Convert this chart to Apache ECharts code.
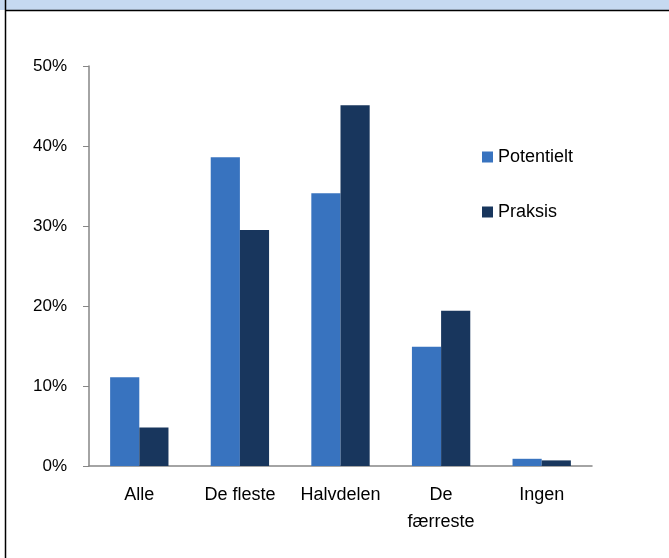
<!DOCTYPE html>
<html>
<head>
<meta charset="utf-8">
<script src="https://cdn.jsdelivr.net/npm/echarts@6/dist/echarts.min.js"></script>
<style>
  html, body { margin: 0; padding: 0; background: #fff; }
  #chart { width: 669px; height: 558px; }
</style>
</head>
<body>
<div id="chart"></div>
<script>
// data
var categories = ['Alle', 'De fleste', 'Halvdelen', 'De\nfærreste', 'Ingen'];
var potentielt = [11.1, 38.6, 34.1, 14.9, 0.9];
var praksis = [4.8, 29.5, 45.1, 19.4, 0.7];
var yTicks = [0, 10, 20, 30, 40, 50];

var font = 'Liberation Sans';
var chart = echarts.init(document.getElementById('chart'));

var option = {
    backgroundColor: '#fff',
    animation: false,
    textStyle: { fontFamily: font },
    graphic: [
        { type: 'rect', shape: { x: 0, y: 0, width: 669, height: 10 }, style: { fill: '#C6D9F1' } },
        { type: 'line', shape: { x1: 5, y1: 10.5, x2: 669, y2: 10.5 }, style: { stroke: '#000', lineWidth: 1.5 } },
        { type: 'line', shape: { x1: 5.5, y1: 0, x2: 5.5, y2: 558 }, style: { stroke: '#000', lineWidth: 1.5 } }
    ],
    legend: {
        orient: 'vertical',
        left: 477,
        top: 143,
        itemWidth: 11,
        itemHeight: 11,
        itemGap: 37,
        icon: 'rect',
        textStyle: { fontSize: 18, color: '#000', fontFamily: font },
        data: ['Potentielt', 'Praksis']
    },
    grid: { left: 89, right: 77, top: 66, bottom: 92 },
    xAxis: {
        type: 'category',
        data: categories,
        axisLine: { lineStyle: { color: '#868686', width: 1.5 } },
        axisTick: { length: 6, lineStyle: { color: '#868686' } },
        axisLabel: { interval: 0, hideOverlap: false, fontSize: 18, color: '#000', margin: 16, lineHeight: 27, fontFamily: font }
    },
    yAxis: {
        type: 'value',
        min: yTicks[0],
        max: yTicks[yTicks.length - 1],
        interval: 10,
        axisLine: { show: true, lineStyle: { color: '#868686', width: 1.5 } },
        axisTick: { show: true, length: 6, lineStyle: { color: '#868686' } },
        splitLine: { show: false },
        axisLabel: { fontSize: 17, color: '#000', margin: 22, formatter: '{value}%', fontFamily: font }
    },
    series: [
        {
            name: 'Potentielt',
            type: 'bar',
            data: potentielt,
            barGap: '0%',
            barCategoryGap: '42%',
            itemStyle: { color: '#3873BF' }
        },
        {
            name: 'Praksis',
            type: 'bar',
            data: praksis,
            itemStyle: { color: '#18365D' }
        }
    ]
};
chart.setOption(option);
</script>
</body>
</html>
